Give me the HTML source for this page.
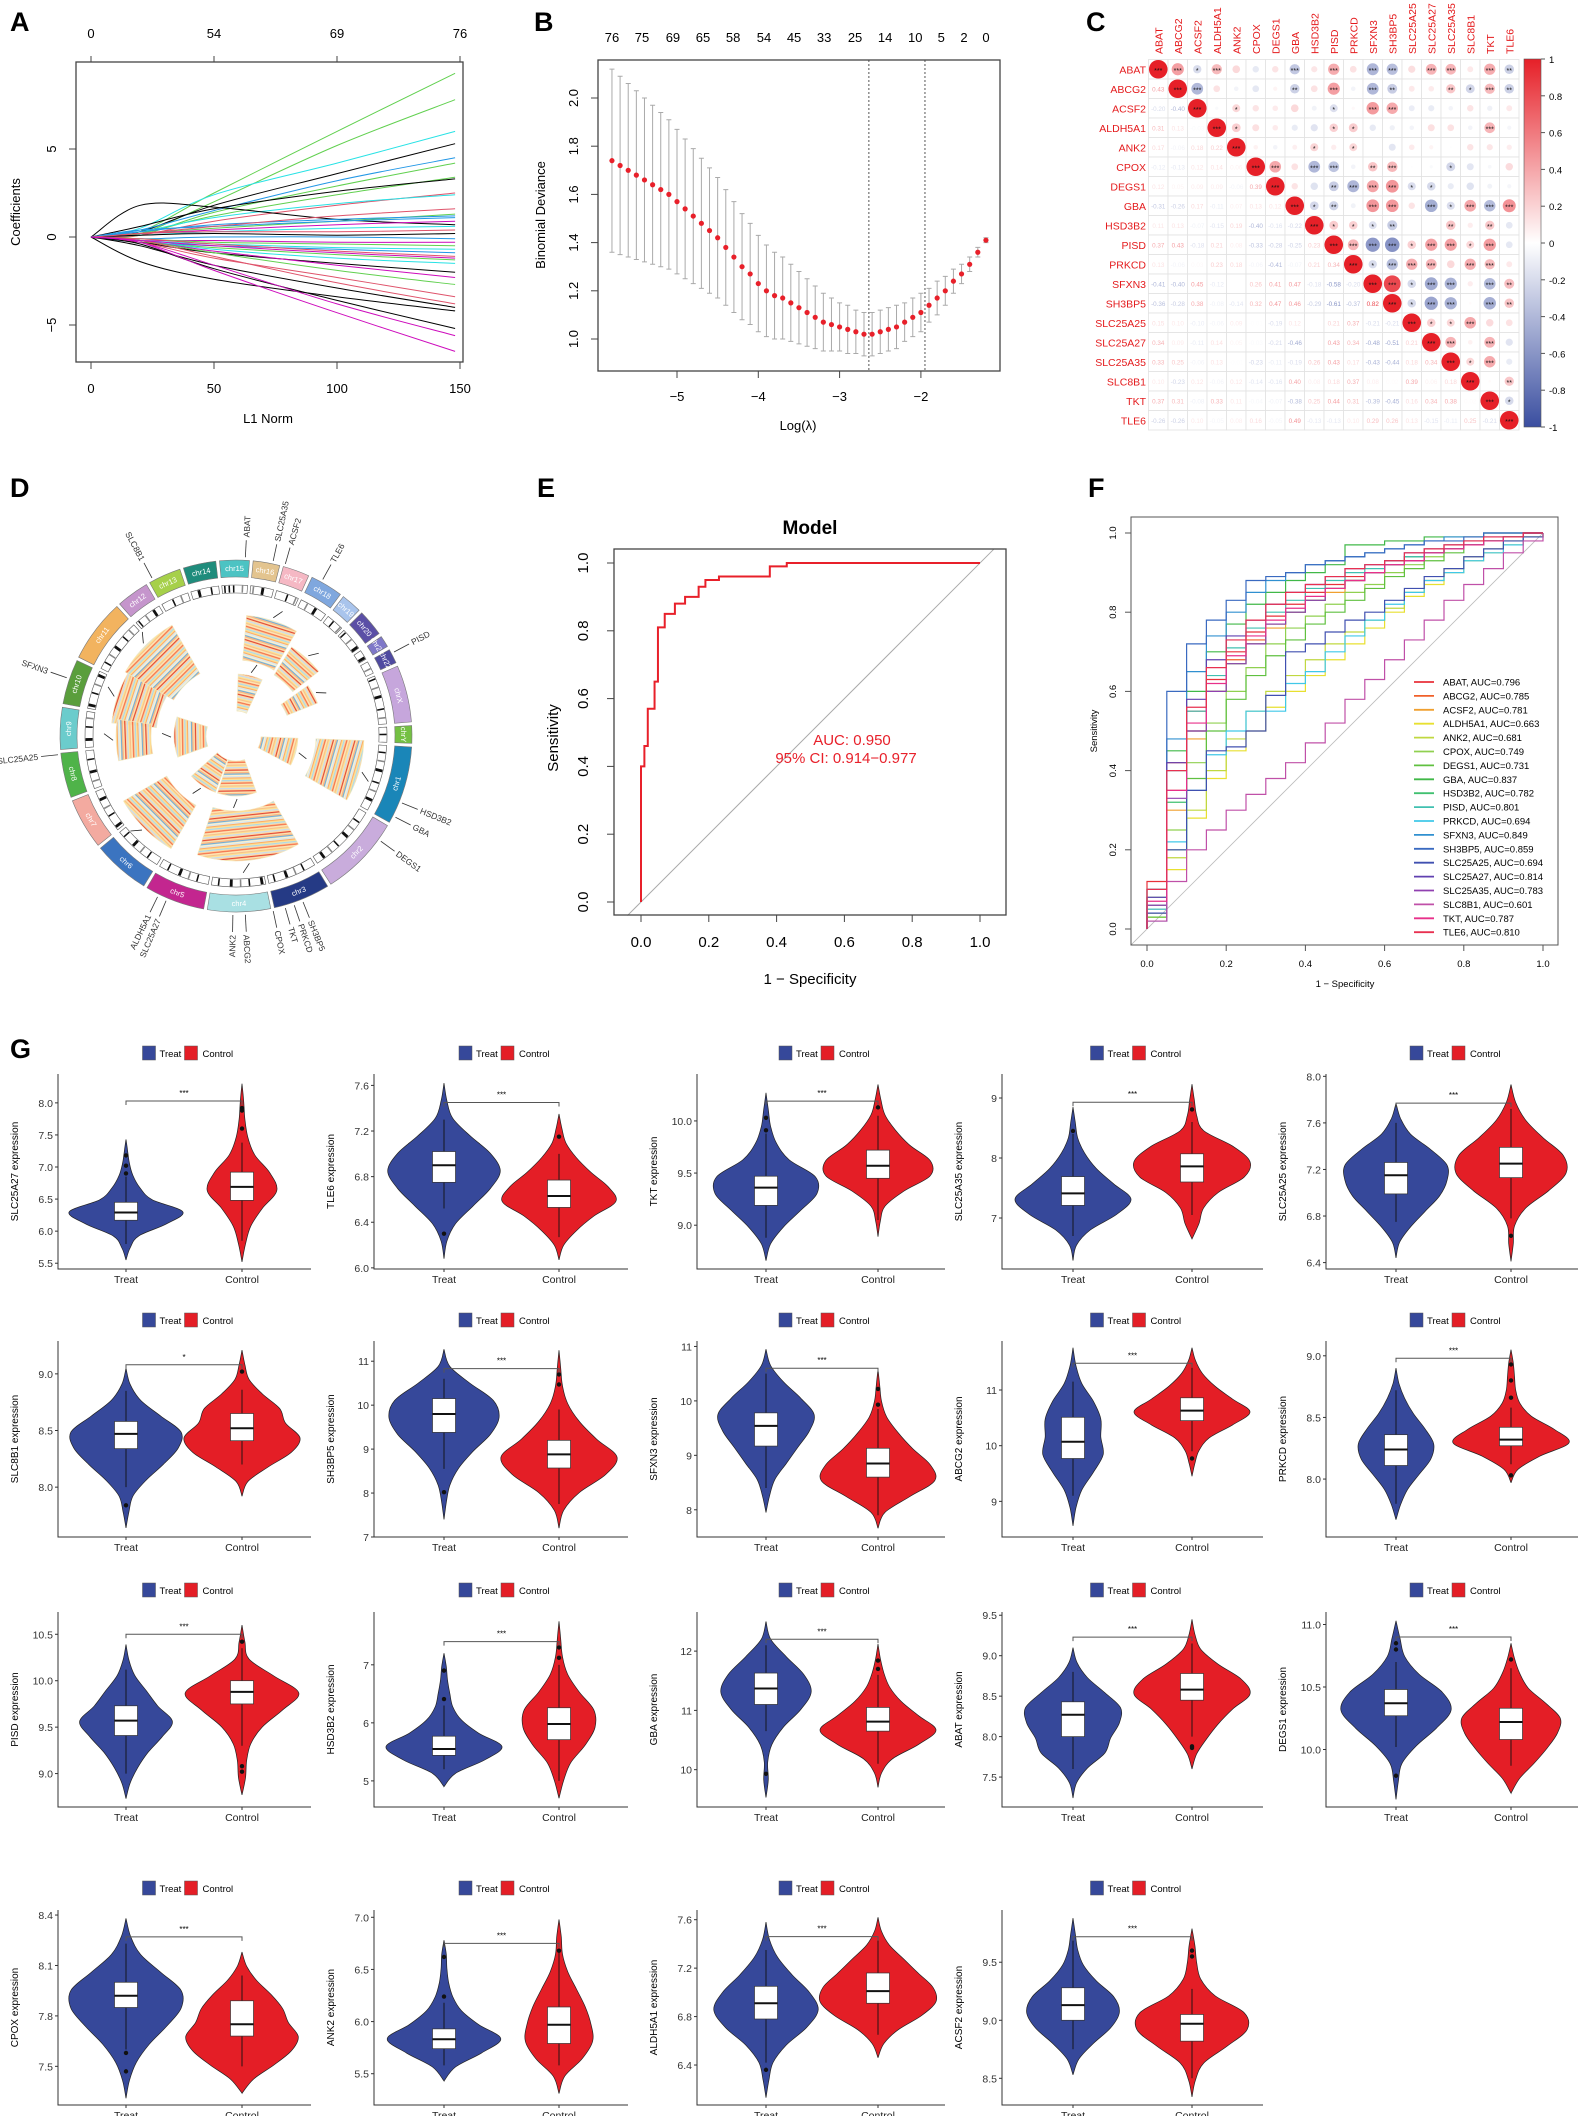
<!DOCTYPE html>
<html><head><meta charset="utf-8">
<style>
body{margin:0;background:#fff}
svg{display:block;font-family:"Liberation Sans",Arial,sans-serif}
</style></head>
<body>
<svg id="fig" width="1580" height="2116" viewBox="0 0 1580 2116">
<defs id="defs"></defs>
</svg>
<script>
const NS='http://www.w3.org/2000/svg';
const svg=document.getElementById('fig');
const defs=document.getElementById('defs');
function mk(tag,attrs,parent){const e=document.createElementNS(NS,tag);for(const k in attrs)e.setAttribute(k,attrs[k]);(parent||svg).appendChild(e);return e;}
function txt(x,y,s,attrs,parent){const t=mk('text',Object.assign({x:x,y:y},attrs||{}),parent);t.textContent=s;return t;}
function segs(p){let d='';for(let i=0;i<p.length-1;i++){const p0=p[i-1]||p[i],p1=p[i],p2=p[i+1],p3=p[i+2]||p[i+1];
 const c1=[p1[0]+(p2[0]-p0[0])/6,p1[1]+(p2[1]-p0[1])/6],c2=[p2[0]-(p3[0]-p1[0])/6,p2[1]-(p3[1]-p1[1])/6];
 d+='C'+c1[0].toFixed(1)+','+c1[1].toFixed(1)+' '+c2[0].toFixed(1)+','+c2[1].toFixed(1)+' '+p2[0].toFixed(1)+','+p2[1].toFixed(1);}return d;}

/* ================= DATA ================= */
const aKnots=[0,20,50,100,148];
const aPaths=[[0,0.3,2.5,6.0,9.3],[0,0.2,2.0,5.2,7.8],[0,0.5,2.4,4.2,6.0],[0,0.3,1.8,3.6,5.3],[0,0.4,1.5,3.2,4.5],[0,0.1,1.4,2.9,4.2],[0,0.2,1.2,2.4,3.4],[0,0.6,1.6,2.6,3.3],[0,0.1,0.9,1.8,2.5],[0,0.3,1.1,1.9,2.4],[0,1.8,1.7,1.0,0.7],[0,0.2,0.5,0.9,1.3],[0,0.4,0.6,0.9,1.1],[0,0.2,0.4,0.7,0.9],[0,0.1,0.3,0.5,0.6],[0,0.2,0.3,0.3,0.4],[0,0.1,0.2,0.1,0.2],[0,-0.1,0.0,0.0,-0.1],[0,-0.2,-0.2,-0.3,-0.3],[0,-0.1,-0.3,-0.4,-0.5],[0,-0.2,-0.4,-0.6,-0.7],[0,-0.3,-0.5,-0.7,-0.9],[0,-0.1,-0.4,-0.8,-1.1],[0,-0.3,-0.6,-1.0,-1.3],[0,-0.2,-0.7,-1.2,-1.5],[0,-0.3,-0.9,-1.5,-2.0],[0,-0.2,-0.8,-1.6,-2.3],[0,-0.2,-0.9,-1.9,-2.7],[0,-0.3,-1.2,-2.3,-3.4],[0,-0.2,-1.1,-2.6,-3.8],[0,-0.5,-1.6,-2.9,-4.0],[0,-1.4,-2.4,-3.4,-4.2],[0,-0.4,-1.8,-3.6,-5.2],[0,-0.3,-1.6,-3.8,-5.6],[0,-0.3,-1.9,-4.3,-6.5],[0,0.3,0.7,1.0,1.2],[0,0.2,0.6,1.2,1.6],[0,-0.2,-0.5,-0.9,-1.2]];
const aColors=['#61D04F','#61D04F','#28E2E5','#000000','#2297E6','#61D04F','#61D04F','#000000','#DF536B','#28E2E5','#000000','#61D04F','#2297E6','#CD0BBC','#28E2E5','#DF536B','#000000','#2297E6','#CD0BBC','#61D04F','#28E2E5','#2297E6','#DF536B','#61D04F','#28E2E5','#000000','#CD0BBC','#61D04F','#DF536B','#DF536B','#000000','#000000','#000000','#CD0BBC','#CD0BBC','#2297E6','#DF536B','#CD0BBC'];
const aXTicks=[0,50,100,150];
const aTopLabels=['0','54','69','76'];
const aYTicks=[-5,0,5];

const bLogs=[-5.8,-5.7,-5.6,-5.5,-5.4,-5.3,-5.2,-5.1,-5.0,-4.9,-4.8,-4.7,-4.6,-4.5,-4.4,-4.3,-4.2,-4.1,-4.0,-3.9,-3.8,-3.7,-3.6,-3.5,-3.4,-3.3,-3.2,-3.1,-3.0,-2.9,-2.8,-2.7,-2.6,-2.5,-2.4,-2.3,-2.2,-2.1,-2.0,-1.9,-1.8,-1.7,-1.6,-1.5,-1.4,-1.3,-1.2];
const bMean=[1.74,1.72,1.70,1.68,1.66,1.64,1.62,1.60,1.57,1.54,1.51,1.48,1.45,1.42,1.38,1.34,1.30,1.27,1.23,1.20,1.18,1.17,1.15,1.13,1.11,1.09,1.07,1.06,1.05,1.04,1.03,1.02,1.02,1.03,1.04,1.05,1.07,1.09,1.11,1.14,1.17,1.20,1.24,1.27,1.31,1.36,1.41];
const bSE=[0.38,0.37,0.36,0.35,0.34,0.33,0.32,0.31,0.30,0.29,0.28,0.27,0.26,0.25,0.24,0.23,0.22,0.21,0.20,0.19,0.18,0.17,0.16,0.15,0.14,0.13,0.12,0.11,0.10,0.10,0.09,0.09,0.09,0.09,0.09,0.09,0.08,0.08,0.08,0.07,0.07,0.06,0.05,0.04,0.03,0.02,0.01];
const bTopLogs=[-5.80,-5.43,-5.05,-4.68,-4.31,-3.93,-3.56,-3.19,-2.81,-2.44,-2.07,-1.75,-1.47,-1.20];
const bTopLabels=['76','75','69','65','58','54','45','33','25','14','10','5','2','0'];
const bXTicks=[-5,-4,-3,-2];
const bYTicks=[1.0,1.2,1.4,1.6,1.8,2.0];
const bLambdaMin=-2.64, bLambda1se=-1.95;

const cGenes=['ABAT','ABCG2','ACSF2','ALDH5A1','ANK2','CPOX','DEGS1','GBA','HSD3B2','PISD','PRKCD','SFXN3','SH3BP5','SLC25A25','SLC25A27','SLC25A35','SLC8B1','TKT','TLE6'];
const cLower=[[],[0.43],[-0.20,-0.40],[0.31,0.13,-0.03],[0.17,-0.06,0.18,0.22],[-0.12,-0.13,0.12,0.14,0.06],[0.12,0.05,0.09,0.09,-0.06,0.39],[-0.31,-0.26,0.17,-0.11,0.07,0.13,0.12],[0.11,0.13,-0.07,-0.15,0.19,-0.40,-0.16,-0.22],[0.37,0.43,-0.18,0.21,0.08,-0.33,-0.28,-0.25,0.23],[0.13,-0.06,0.03,0.23,0.18,-0.06,-0.41,-0.07,0.21,0.34],[-0.41,-0.40,0.45,-0.12,0.00,0.26,0.41,0.47,-0.18,-0.58,-0.20],[-0.36,-0.28,0.38,-0.08,-0.14,0.32,0.47,0.46,-0.29,-0.61,-0.37,0.82],[0.15,0.10,-0.10,-0.06,0.09,-0.01,-0.19,0.12,0.00,0.21,0.37,-0.21,-0.21],[0.34,0.09,-0.11,0.14,0.05,-0.03,-0.21,-0.46,0.00,0.43,0.34,-0.48,-0.51,0.21],[0.33,0.25,-0.06,0.13,-0.01,-0.23,-0.11,-0.19,0.26,0.43,0.17,-0.43,-0.44,0.18,0.34],[0.10,-0.23,0.12,-0.06,0.12,-0.14,-0.16,0.40,0.08,0.18,0.37,0.08,0.02,0.39,0.06,0.18],[0.37,0.31,-0.08,0.33,0.11,-0.04,-0.07,-0.38,0.25,0.44,0.31,-0.39,-0.45,0.16,0.34,0.38,0.02],[-0.26,-0.26,0.10,-0.05,0.08,0.16,-0.05,0.49,-0.13,-0.13,0.10,0.29,0.26,0.13,-0.15,-0.11,0.25,-0.21]];
const cBarTicks=[1,0.8,0.6,0.4,0.2,0,-0.2,-0.4,-0.6,-0.8,-1];

const dChroms=['chr15','chr16','chr17','chr18','chr19','chr20','chr21','chr22','chrX','chrY','chr1','chr2','chr3','chr4','chr5','chr6','chr7','chr8','chr9','chr10','chr11','chr12','chr13','chr14'];
const dChromStart=[-6,5,15,25,37,45,55,60,66,86,93,120,148,168,190,211,231,249,265,280,296,318,330,342];
const dChromEnd=[5,15,25,37,45,55,60,66,86,93,120,148,168,190,211,231,249,265,280,296,318,330,342,354];
const dChromColors=['#4cc3c3','#e3c48f','#f5b8c4','#7fa7de','#a9c4ec','#5b4fa6','#7f78c8','#4f4aa0','#c6a6dc','#74c043','#1a86b8','#c9acdc','#253a85','#a9e0e3','#c3268f','#3b74c0','#f3aaa0','#4fb349','#6bcccc','#5a9e3c','#f2b35f','#c595cc','#a6d04a','#1f8c7c'];
const dGenes=['ABAT','SLC25A35','ACSF2','TLE6','PISD','HSD3B2','GBA','DEGS1','SH3BP5','PRKCD','TKT','CPOX','ABCG2','ANK2','SLC25A27','ALDH5A1','SLC25A25','SFXN3','SLC8B1'];
const dGeneAngles=[3,12,16,29,62,112,117,126,158,161,164,168,177,181,203,206,264,289,332];
const dTracks=[[5,30,76,121],[32,52,72,105],[55,68,55,88],[2,25,25,62],[300,330,72,128],[276,300,80,125],[258,278,85,120],[250,288,30,62],[92,118,25,62],[92,120,80,128],[150,198,75,125],[160,198,25,60],[200,228,25,60],[210,240,80,130]];

const eFPR=[0,0,0.01,0.01,0.02,0.02,0.04,0.04,0.05,0.05,0.07,0.07,0.10,0.10,0.13,0.13,0.17,0.17,0.19,0.19,0.23,0.23,0.38,0.38,0.43,0.43,1.0];
const eTPR=[0,0.40,0.40,0.46,0.46,0.57,0.57,0.65,0.65,0.81,0.81,0.85,0.85,0.88,0.88,0.90,0.90,0.93,0.93,0.95,0.95,0.96,0.96,0.99,0.99,1.0,1.0];
const eTicks=[0,0.2,0.4,0.6,0.8,1.0];

const fGrid=[0,0.05,0.1,0.15,0.2,0.25,0.3,0.35,0.4,0.45,0.5,0.55,0.6,0.65,0.7,0.75,0.8,0.85,0.9,0.95,1.0];
const fGenes=['ABAT','ABCG2','ACSF2','ALDH5A1','ANK2','CPOX','DEGS1','GBA','HSD3B2','PISD','PRKCD','SFXN3','SH3BP5','SLC25A25','SLC25A27','SLC25A35','SLC8B1','TKT','TLE6'];
const fAUC=['0.796','0.785','0.781','0.663','0.681','0.749','0.731','0.837','0.782','0.801','0.694','0.849','0.859','0.694','0.814','0.783','0.601','0.787','0.810'];
const fColors=['#e8313a','#f0602a','#f0a030','#e8e030','#c0d840','#90d050','#60c040','#40b848','#40c070','#40c0b0','#40c8e8','#3090d0','#3a6ac0','#4050b0','#6040b0','#9040b0','#c050a8','#e8308a','#e83050'];
const fTPR=[
[0.12,0.42,0.55,0.63,0.70,0.75,0.79,0.82,0.85,0.87,0.89,0.90,0.92,0.93,0.95,0.96,0.97,0.98,0.99,1,1],
[0.05,0.35,0.50,0.60,0.68,0.73,0.77,0.80,0.83,0.86,0.88,0.90,0.92,0.94,0.95,0.96,0.97,0.98,0.99,1,1],
[0.08,0.30,0.48,0.60,0.67,0.72,0.76,0.80,0.83,0.85,0.88,0.90,0.92,0.93,0.95,0.96,0.97,0.98,0.99,0.99,1],
[0.03,0.15,0.28,0.38,0.45,0.50,0.56,0.60,0.64,0.68,0.72,0.76,0.80,0.84,0.87,0.90,0.93,0.95,0.97,0.99,1],
[0.05,0.18,0.30,0.40,0.48,0.55,0.60,0.64,0.68,0.72,0.75,0.78,0.81,0.85,0.88,0.91,0.94,0.96,0.98,0.99,1],
[0.04,0.25,0.42,0.52,0.60,0.66,0.72,0.76,0.79,0.82,0.85,0.87,0.90,0.92,0.94,0.96,0.97,0.98,0.99,1,1],
[0.03,0.20,0.38,0.50,0.58,0.64,0.69,0.73,0.77,0.80,0.83,0.86,0.89,0.91,0.93,0.95,0.97,0.98,0.99,1,1],
[0.10,0.45,0.60,0.70,0.77,0.82,0.85,0.88,0.90,0.92,0.97,0.97,0.98,0.98,0.99,0.99,0.99,1,1,1,1],
[0.06,0.32,0.50,0.60,0.67,0.72,0.77,0.80,0.83,0.86,0.88,0.90,0.92,0.94,0.95,0.96,0.97,0.98,0.99,1,1],
[0.08,0.40,0.55,0.64,0.71,0.76,0.80,0.83,0.86,0.88,0.90,0.91,0.93,0.94,0.95,0.96,0.97,0.98,0.99,1,1],
[0.05,0.22,0.35,0.44,0.50,0.55,0.55,0.62,0.65,0.70,0.74,0.78,0.82,0.85,0.88,0.90,0.93,0.95,0.97,0.99,1],
[0.10,0.48,0.65,0.74,0.80,0.85,0.88,0.90,0.92,0.93,0.94,0.95,0.96,0.97,0.98,0.99,0.99,1,1,1,1],
[0.02,0.60,0.72,0.78,0.83,0.88,0.89,0.90,0.92,0.93,0.94,0.95,0.96,0.97,0.98,0.98,0.99,1,1,1,1],
[0.04,0.20,0.35,0.45,0.46,0.50,0.59,0.70,0.72,0.75,0.78,0.80,0.83,0.86,0.89,0.91,0.94,0.96,0.98,0.99,1],
[0.08,0.42,0.58,0.68,0.74,0.78,0.82,0.85,0.87,0.89,0.91,0.92,0.93,0.95,0.96,0.97,0.98,0.99,0.99,1,1],
[0.06,0.33,0.50,0.60,0.67,0.72,0.77,0.80,0.83,0.86,0.88,0.90,0.92,0.93,0.95,0.96,0.97,0.98,0.99,1,1],
[0.02,0.12,0.20,0.25,0.30,0.34,0.38,0.42,0.47,0.52,0.58,0.63,0.68,0.73,0.78,0.83,0.87,0.91,0.95,0.98,1],
[0.07,0.35,0.52,0.62,0.69,0.74,0.78,0.81,0.84,0.86,0.88,0.90,0.92,0.93,0.95,0.96,0.97,0.98,0.99,1,1],
[0.10,0.40,0.56,0.66,0.73,0.78,0.82,0.85,0.87,0.89,0.91,0.92,0.93,0.95,0.96,0.97,0.98,0.99,0.99,1,1]];

const gGenes=['SLC25A27','TLE6','TKT','SLC25A35','SLC25A25','SLC8B1','SH3BP5','SFXN3','ABCG2','PRKCD','PISD','HSD3B2','GBA','ABAT','DEGS1','CPOX','ANK2','ALDH5A1','ACSF2'];
const gDomain=[[5.41,8.45],[5.99,7.70],[8.58,10.45],[6.15,9.40],[6.345,8.02],[7.56,9.29],[7.0,11.46],[7.5,11.1],[8.36,11.88],[7.53,9.12],[8.64,10.74],[4.55,7.91],[9.37,12.66],[7.13,9.54],[9.54,11.1],[7.27,8.43],[5.2,7.07],[6.07,7.68],[8.27,9.95]];
const gTicks=[[5.5,6.0,6.5,7.0,7.5,8.0],[6.0,6.4,6.8,7.2,7.6],[9.0,9.5,10.0],[7,8,9],[6.4,6.8,7.2,7.6,8.0],[8.0,8.5,9.0],[7,8,9,10,11],[8,9,10,11],[9,10,11],[8.0,8.5,9.0],[9.0,9.5,10.0,10.5],[5,6,7],[10,11,12],[7.5,8.0,8.5,9.0,9.5],[10.0,10.5,11.0],[7.5,7.8,8.1,8.4],[5.5,6.0,6.5,7.0],[6.4,6.8,7.2,7.6],[8.5,9.0,9.5]];
const gTickDecimals=[1,1,1,0,1,1,0,0,0,1,1,0,0,1,1,1,1,1,1];
const gTreatBox=[[5.8,6.17,6.29,6.45,6.85],[6.52,6.75,6.9,7.02,7.3],[8.88,9.19,9.36,9.47,9.88],[6.7,7.21,7.41,7.69,8.4],[6.75,6.99,7.15,7.26,7.6],[8.0,8.34,8.47,8.58,8.85],[8.55,9.38,9.8,10.15,10.6],[8.4,9.17,9.54,9.78,10.5],[9.1,9.77,10.07,10.51,11.15],[7.8,8.11,8.24,8.36,8.72],[9.0,9.41,9.57,9.73,10.12],[5.2,5.44,5.55,5.77,6.3],[10.65,11.1,11.37,11.63,12.1],[7.6,8.0,8.27,8.43,8.8],[10.02,10.27,10.37,10.48,10.7],[7.6,7.85,7.92,8.0,8.23],[5.58,5.74,5.83,5.93,6.18],[6.42,6.78,6.91,7.05,7.35],[8.75,9.0,9.13,9.28,9.7]];
const gControlBox=[[5.85,6.48,6.69,6.92,7.38],[6.27,6.53,6.63,6.77,7.0],[9.05,9.45,9.57,9.72,10.05],[7.05,7.6,7.86,8.07,8.6],[6.78,7.13,7.25,7.39,7.72],[8.2,8.41,8.52,8.65,8.86],[7.75,8.57,8.88,9.2,9.9],[7.9,8.6,8.85,9.13,9.85],[9.9,10.45,10.63,10.86,11.4],[8.12,8.27,8.32,8.42,8.58],[9.3,9.75,9.88,10.0,10.35],[5.0,5.71,5.98,6.26,7.0],[10.1,10.65,10.81,11.05,11.6],[8.0,8.45,8.58,8.78,9.15],[9.87,10.08,10.22,10.33,10.65],[7.5,7.68,7.75,7.89,8.04],[5.58,5.79,5.97,6.14,6.68],[6.65,6.91,7.01,7.16,7.46],[8.5,8.82,8.97,9.05,9.27]];
const gTreatRange=[[5.55,7.43],[6.08,7.62],[8.66,10.27],[6.29,8.85],[6.44,7.77],[7.64,9.05],[7.4,11.27],[7.95,10.95],[8.56,11.76],[7.67,8.9],[8.73,10.39],[4.9,7.2],[9.53,12.5],[7.24,9.1],[9.6,11.03],[7.31,8.38],[5.43,6.78],[6.13,7.58],[8.53,9.88]];
const gControlRange=[[5.52,8.3],[6.07,7.35],[8.89,10.35],[6.65,9.23],[6.41,7.93],[7.92,9.21],[7.2,11.25],[7.66,10.58],[9.45,11.76],[7.97,9.05],[8.77,10.6],[4.7,7.75],[9.7,12.12],[7.6,9.45],[9.65,10.85],[7.34,8.18],[5.31,6.98],[6.46,7.62],[8.34,9.79]];
const gTreatDens=[[0.07,0.22,0.7,0.98,0.45,0.24,0.12,0.06,0.03],[0.05,0.2,0.5,0.8,0.97,0.8,0.45,0.15,0.05],[0.08,0.3,0.6,0.88,0.85,0.4,0.18,0.08,0.04],[0.06,0.3,0.75,1.0,0.7,0.4,0.2,0.08,0.04],[0.06,0.25,0.5,0.75,0.88,0.88,0.6,0.25,0.08],[0.05,0.12,0.35,0.65,0.9,0.95,0.6,0.25,0.07],[0.04,0.1,0.25,0.5,0.8,0.95,0.85,0.45,0.1],[0.06,0.15,0.35,0.55,0.75,0.83,0.6,0.3,0.08],[0.05,0.15,0.35,0.52,0.48,0.48,0.35,0.15,0.05],[0.08,0.2,0.4,0.6,0.65,0.5,0.3,0.15,0.05],[0.07,0.2,0.38,0.62,0.8,0.55,0.35,0.15,0.05],[0.2,0.7,1.0,0.6,0.3,0.15,0.1,0.06,0.04],[0.04,0.03,0.1,0.3,0.6,0.78,0.65,0.35,0.08],[0.06,0.25,0.55,0.65,0.8,0.82,0.55,0.25,0.07],[0.04,0.1,0.35,0.7,0.95,0.8,0.4,0.15,0.07],[0.06,0.18,0.4,0.7,0.95,0.95,0.6,0.25,0.08],[0.2,0.65,0.98,0.6,0.3,0.15,0.08,0.05,0.04],[0.05,0.12,0.35,0.7,0.9,0.75,0.45,0.2,0.06],[0.1,0.35,0.65,0.8,0.7,0.4,0.18,0.08,0.04]];
const gControlDens=[[0.06,0.15,0.35,0.6,0.48,0.22,0.1,0.05,0.03],[0.08,0.3,0.6,0.98,0.85,0.55,0.3,0.12,0.05],[0.04,0.12,0.45,0.9,0.9,0.55,0.3,0.12,0.05],[0.12,0.2,0.45,0.9,1.0,0.7,0.2,0.08,0.04],[0.04,0.06,0.25,0.65,0.95,0.9,0.55,0.25,0.08],[0.1,0.45,0.85,1.0,0.75,0.65,0.35,0.12,0.05],[0.08,0.35,0.8,1.0,0.65,0.35,0.15,0.06,0.03],[0.12,0.55,0.98,0.9,0.6,0.35,0.15,0.06,0.03],[0.05,0.12,0.3,0.7,1.0,0.7,0.4,0.18,0.06],[0.12,0.5,1.0,0.75,0.35,0.15,0.08,0.06,0.04],[0.06,0.08,0.15,0.35,0.7,0.98,0.55,0.12,0.05],[0.08,0.2,0.45,0.62,0.6,0.35,0.15,0.06,0.03],[0.06,0.25,0.7,1.0,0.7,0.4,0.2,0.1,0.04],[0.08,0.25,0.45,0.7,1.0,0.85,0.45,0.15,0.05],[0.15,0.4,0.62,0.8,0.85,0.6,0.3,0.15,0.06],[0.2,0.55,0.85,0.97,0.8,0.7,0.5,0.25,0.08],[0.1,0.4,0.58,0.55,0.45,0.3,0.15,0.06,0.04],[0.1,0.35,0.75,1.0,0.95,0.7,0.45,0.2,0.06],[0.06,0.2,0.6,0.95,0.9,0.4,0.15,0.08,0.05]];
const gTreatOut=[[6.9,7.02,7.18],[6.3],[9.91,10.03],[8.45],[],[7.84],[8.02],[],[],[],[],[6.41,6.9],[9.93],[],[9.79,10.8,10.85],[7.47,7.58],[6.24,6.62],[6.36],[]];
const gControlOut=[[7.6,7.88,7.92],[7.15],[10.13],[8.81],[6.63],[9.02],[10.47,10.7],[9.93,10.22],[9.77],[8.03,8.66,8.8,8.93],[9.02,9.08,10.42],[7.12,7.3],[11.7,11.84],[7.86,7.88],[10.72],[],[6.68],[],[9.55,9.6]];
const gSig=['***','***','***','***','***','*','***','***','***','***','***','***','***','***','***','***','***','***','***'];
const gBracket=[8.03,7.45,10.19,8.93,7.77,9.08,10.83,10.6,11.48,8.98,10.5,7.4,12.2,9.23,10.9,8.27,6.75,7.46,9.72];

/* ================= LAYOUT ================= */
const letters=[['A',10,31],['B',534,31],['C',1086,31],['D',10,497],['E',537,497],['F',1088,497],['G',10,1058]];
letters.forEach(l=>{const t=txt(l[1],l[2],l[0],{'font-size':27,'font-weight':'bold'});

});

/* ---------- Panel A ---------- */
(function(){
const g=mk('g',{});


const X0=76,X1=463,Y0=62,Y1=362;
const xs=v=>91+v*(460-91)/150, ys=v=>237-v*17.6;
aPaths.forEach((p,i)=>{const pts=p.map((v,k)=>[xs(aKnots[k]),ys(v)]);
 const path=mk('path',{d:'M'+pts[0]+segs(pts),fill:'none',stroke:aColors[i],'stroke-width':1},g);
 
 });
const box=mk('rect',{x:X0,y:Y0,width:X1-X0,height:Y1-Y0,fill:'none',stroke:'#444','stroke-width':1.3},g);


aXTicks.forEach((v,i)=>{const x=xs(v);
 mk('line',{x1:x,x2:x,y1:Y1,y2:Y1+7,stroke:'#444'},g);
 txt(x,Y1+31,String(v),{'font-size':13,'text-anchor':'middle'},g);
 mk('line',{x1:x,x2:x,y1:Y0,y2:Y0-6,stroke:'#444'},g);
 txt(x,Y0-24,aTopLabels[i],{'font-size':13,'text-anchor':'middle'},g);});
aYTicks.forEach(v=>{const y=ys(v);mk('line',{x1:X0,x2:X0-7,y1:y,y2:y,stroke:'#444'},g);
 txt(56,y,String(v).replace('-','\u2212'),{'font-size':13,'text-anchor':'middle',transform:'rotate(-90 56 '+y+')'},g);});
const xl=txt(268,423,'L1 Norm',{'font-size':13,'text-anchor':'middle'},g);


const yl=txt(20,212,'Coefficients',{'font-size':13,'text-anchor':'middle',transform:'rotate(-90 20 212)'},g);


})();

/* ---------- Panel B ---------- */
(function(){
const g=mk('g',{});


const X0=598,X1=1000,Y0=60,Y1=371;
const xs=v=>677+(v+5)*81.3, ys=v=>339-(v-1)*241;
bLogs.forEach((l,i)=>{const x=xs(l),y1=ys(bMean[i]+bSE[i]),y2=ys(bMean[i]-bSE[i]);
 const eb=mk('path',{d:`M${x},${y1}V${y2}M${x-2.5},${y1}H${x+2.5}M${x-2.5},${y2}H${x+2.5}`,stroke:'#aaa','stroke-width':1,fill:'none'},g);
 
 });
bLogs.forEach((l,i)=>{const c=mk('circle',{cx:xs(l),cy:ys(bMean[i]),r:2.6,fill:'#e8202a'},g);
 
 });
[bLambdaMin,bLambda1se].forEach(v=>{const d=mk('line',{x1:xs(v),x2:xs(v),y1:Y0,y2:Y1,stroke:'#555','stroke-dasharray':'2,2'},g);
 
 });
const box=mk('rect',{x:X0,y:Y0,width:X1-X0,height:Y1-Y0,fill:'none',stroke:'#444','stroke-width':1.3},g);


bXTicks.forEach(v=>{const x=xs(v);mk('line',{x1:x,x2:x,y1:Y1,y2:Y1+7,stroke:'#444'},g);
 txt(x,Y1+30,String(v).replace('-','\u2212'),{'font-size':13,'text-anchor':'middle'},g);});
bTopLogs.forEach((v,i)=>txt(xs(v),42,bTopLabels[i],{'font-size':13,'text-anchor':'middle'},g));
bYTicks.forEach(v=>{const y=ys(v);mk('line',{x1:X0,x2:X0-7,y1:y,y2:y,stroke:'#444'},g);
 txt(578,y,v.toFixed(1),{'font-size':13,'text-anchor':'middle',transform:'rotate(-90 578 '+y+')'},g);});
const xl=txt(798,430,'Log(\u03bb)',{'font-size':13,'text-anchor':'middle'},g);


const yl=txt(545,215,'Binomial Deviance',{'font-size':13,'text-anchor':'middle',transform:'rotate(-90 545 215)'},g);


})();

/* ---------- Panel C ---------- */
(function(){
const g=mk('g',{});


const n=cGenes.length, X0=1148.5, Y0=59.5, S=19.5;
const M=[];for(let i=0;i<n;i++){M.push([]);for(let j=0;j<n;j++)M[i].push(i===j?1:(j<i?cLower[i][j]:cLower[j][i]));}
function col(v){const a=Math.min(1,Math.abs(v));const b=v>=0?[230,32,40]:[58,78,160];
 const c=b.map(x=>Math.round(255+(x-255)*a));return 'rgb('+c.join(',')+')';}
function stars(v){const a=Math.abs(v);return a>=0.99?'***':a>0.3?'***':a>0.23?'**':a>0.17?'*':'';}
for(let i=0;i<n;i++)for(let j=0;j<n;j++){
 const x=X0+j*S,y=Y0+i*S;
 mk('rect',{x:x,y:y,width:S,height:S,fill:'#fff',stroke:'#e2e2e2','stroke-width':0.8},g);}
for(let i=0;i<n;i++)for(let j=0;j<n;j++){
 const cx=X0+j*S+S/2,cy=Y0+i*S+S/2,v=M[i][j];
 if(j>=i){const c=mk('circle',{cx:cx,cy:cy,r:9.3*Math.sqrt(Math.abs(v)),fill:col(v)},g);
  
  
  const s=stars(v);if(s)txt(cx,cy+3.5,s,{'font-size':7,'text-anchor':'middle',fill:'#111'},g);}
 else{const t=txt(cx,cy+2.5,v.toFixed(2),{'font-size':6.3,'text-anchor':'middle',fill:col(v)},g);
  
  }}
cGenes.forEach((gname,i)=>{
 const r=txt(1146,Y0+i*S+S/2+4,gname,{'font-size':10.5,'text-anchor':'end',fill:'#e41a1c'},g);
 
 
 const cx=X0+i*S+S/2+4;
 const c=txt(cx,54,gname,{'font-size':10.5,fill:'#e41a1c',transform:'rotate(-90 '+cx+' 54)'},g);
 
 });
const lg=mk('linearGradient',{id:'cbar',x1:0,y1:0,x2:0,y2:1},defs);
mk('stop',{offset:'0','stop-color':'rgb(230,32,40)'},lg);mk('stop',{offset:'0.5','stop-color':'#fff'},lg);mk('stop',{offset:'1','stop-color':'rgb(58,78,160)'},lg);
const bar=mk('rect',{x:1524,y:59,width:17,height:368,fill:'url(#cbar)',stroke:'#555','stroke-width':0.6},g);


cBarTicks.forEach(v=>{const y=243-v*184;mk('line',{x1:1541,x2:1545,y1:y,y2:y,stroke:'#555'},g);
 txt(1549,y+4,String(v),{'font-size':9.5},g);});
})();

/* ---------- Panel D ---------- */
(function(){
const g=mk('g',{});


const CX=236,CY=736;
const P=(r,a)=>[CX+r*Math.sin(a*Math.PI/180),CY-r*Math.cos(a*Math.PI/180)];
function sector(r0,r1,a0,a1){const p1=P(r1,a0),p2=P(r1,a1),p3=P(r0,a1),p4=P(r0,a0);const lf=(a1-a0)>180?1:0;
 return `M${p1}A${r1},${r1} 0 ${lf} 1 ${p2}L${p3}A${r0},${r0} 0 ${lf} 0 ${p4}Z`;}
dChroms.forEach((c,i)=>{const a0=dChromStart[i]+0.6,a1=dChromEnd[i]-0.6;
 const s=mk('path',{d:sector(159,176,a0,a1),fill:dChromColors[i],stroke:'#777','stroke-width':0.6},g);
 
 
 const am=(a0+a1)/2,p=P(167.5,am);let rot=am;if(am>90&&am<270)rot=am+180;
 txt(p[0],p[1]+2.5,c,{'font-size':7.5,fill:'#fff','text-anchor':'middle',transform:`rotate(${rot} ${p[0]} ${p[1]})`},g);
 const b=mk('path',{d:sector(143,151,a0,a1),fill:'#fff',stroke:'#555','stroke-width':0.6},g);
 
 
 for(let a=a0+0.8;a<a1-0.5;a+=1.7){const k=Math.round(a*10)%7;if(k<3){mk('path',{d:sector(143.5,150.5,a,a+(k===0?1.1:0.6)),fill:k===1?'#888':'#111'},g);}}});
const pal=['#f8c08a','#fee8b0','#f46d43','#fdd49e','#abd9e9','#fee090','#fdae61','#d6e6ef','#fef3cf','#74add1','#f9b27a','#fee8b0','#e34a33','#fdd49e','#c6dbef','#fee090'];
dTracks.forEach((t,i)=>{const pid='hm'+i,am=(t[0]+t[1])/2;
 const pt=mk('pattern',{id:pid,patternUnits:'userSpaceOnUse',width:pal.length*1.3,height:4,patternTransform:`rotate(${am+90})`},defs);
 pal.forEach((c,k)=>mk('rect',{x:k*1.3,y:0,width:1.3,height:4,fill:c},pt));
 const w=mk('path',{d:sector(t[2],t[3],t[0],t[1]),fill:`url(#${pid})`,stroke:'#f3e9c0','stroke-width':0.6},g);
 
 
 const q1=P(t[3]+3,am),q2=P(t[3]+12,am+3);
 mk('path',{d:`M${q1}L${q2}`,stroke:'#222','stroke-width':0.8,fill:'none'},g);});
dGenes.forEach((gn,i)=>{const a=dGeneAngles[i];const l1=P(179,a),l2=P(196,a);
 mk('line',{x1:l1[0],y1:l1[1],x2:l2[0],y2:l2[1],stroke:'#333','stroke-width':0.8},g);
 const p=P(199,a);const right=a<180;const rot=right?a-90:a+90;
 const t=txt(p[0],p[1]+3,gn,{'font-size':8.5,fill:'#333','text-anchor':right?'start':'end',transform:`rotate(${rot} ${p[0]} ${p[1]})`},g);
 
 });
})();

/* ---------- Panel E ---------- */
(function(){
const g=mk('g',{});


const X0=614,X1=1006,Y0=549,Y1=915;
const xs=v=>641+v*339, ys=v=>902-v*339;
const dg=mk('line',{x1:xs(-0.04),y1:ys(-0.04),x2:xs(1.04),y2:ys(1.04),stroke:'#aaa','stroke-width':1},g);


const d=eFPR.map((v,i)=>(i?'L':'M')+xs(v)+','+ys(eTPR[i])).join('');
const roc=mk('path',{d:d,fill:'none',stroke:'#e8202a','stroke-width':2},g);


const box=mk('rect',{x:X0,y:Y0,width:X1-X0,height:Y1-Y0,fill:'none',stroke:'#444','stroke-width':1.3},g);


eTicks.forEach(v=>{const x=xs(v),y=ys(v);
 mk('line',{x1:x,x2:x,y1:Y1,y2:Y1+7,stroke:'#444'},g);
 txt(x,Y1+32,v.toFixed(1),{'font-size':15,'text-anchor':'middle'},g);
 mk('line',{x1:X0,x2:X0-7,y1:y,y2:y,stroke:'#444'},g);
 txt(588,y,v.toFixed(1),{'font-size':15,'text-anchor':'middle',transform:'rotate(-90 588 '+y+')'},g);});
const ti=txt(810,534,'Model',{'font-size':19,'font-weight':'bold','text-anchor':'middle'},g);


const xl=txt(810,984,'1 \u2212 Specificity',{'font-size':15,'text-anchor':'middle'},g);


const yl=txt(558,738,'Sensitivity',{'font-size':15,'text-anchor':'middle',transform:'rotate(-90 558 738)'},g);


const a1=txt(852,745,'AUC: 0.950',{'font-size':15,'text-anchor':'middle',fill:'#e8202a'},g);


const a2=txt(846,763,'95% CI: 0.914\u22120.977',{'font-size':15,'text-anchor':'middle',fill:'#e8202a'},g);


})();

/* ---------- Panel F ---------- */
(function(){
const g=mk('g',{});


const X0=1131,X1=1558,Y0=517,Y1=945;
const xs=v=>1147+v*396, ys=v=>929-v*396;
const dg=mk('line',{x1:xs(-0.04),y1:ys(-0.04),x2:xs(1.0),y2:ys(1.0),stroke:'#bbb','stroke-width':0.8},g);


fTPR.forEach((arr,k)=>{let d='M'+xs(0)+','+ys(0)+'L'+xs(0)+','+ys(arr[0]);
 for(let i=1;i<arr.length;i++){d+='L'+xs(fGrid[i])+','+ys(arr[i-1])+'L'+xs(fGrid[i])+','+ys(arr[i]);}
 const p=mk('path',{d:d,fill:'none',stroke:fColors[k],'stroke-width':1.2},g);
 
 });
const box=mk('rect',{x:X0,y:Y0,width:X1-X0,height:Y1-Y0,fill:'none',stroke:'#555','stroke-width':1},g);


eTicks.forEach(v=>{const x=xs(v),y=ys(v);
 mk('line',{x1:x,x2:x,y1:Y1,y2:Y1+6,stroke:'#555'},g);
 txt(x,Y1+22,v.toFixed(1),{'font-size':9.5,'text-anchor':'middle'},g);
 mk('line',{x1:X0,x2:X0-6,y1:y,y2:y,stroke:'#555'},g);
 txt(1116,y,v.toFixed(1),{'font-size':9.5,'text-anchor':'middle',transform:'rotate(-90 1116 '+y+')'},g);});
const xl=txt(1345,987,'1 \u2212 Specificity',{'font-size':9.5,'text-anchor':'middle'},g);


const yl=txt(1097,731,'Sensitivity',{'font-size':9.5,'text-anchor':'middle',transform:'rotate(-90 1097 731)'},g);


fGenes.forEach((gn,i)=>{const y=682+i*13.9;
 mk('line',{x1:1414,x2:1434,y1:y,y2:y,stroke:fColors[i],'stroke-width':1.8},g);
 const t=txt(1443,y+3.5,gn+', AUC='+fAUC[i],{'font-size':9.5},g);
 
 });
})();

/* ---------- Panel G ---------- */
(function(){
const colAxis=[58,374,697,1002,1326], colRight=[311,628,945,1263,1578];
const colTreat=[126,444,766,1073,1396], colCtrl=[242,559,878,1192,1511];
const rowTop=[1074,1341,1612,1910], rowBot=[1269,1537,1807,2105], rowLeg=[1053,1320,1590,1888];
const HW=58;
gGenes.forEach((gene,p)=>{
 const r=Math.floor(p/5),c=p%5;
 const ax=colAxis[c],ar=colRight[c],top=rowTop[r],bot=rowBot[r];
 const dom=gDomain[p];const ys=v=>bot-(v-dom[0])/(dom[1]-dom[0])*(bot-top);
 const g=mk('g',{});
 
 
 const cx=(ax+ar)/2,ly=rowLeg[r];
 const lg=mk('g',{},g);
 
 
 mk('rect',{x:cx-42,y:ly-7,width:13,height:14,fill:'#36489a',stroke:'#555','stroke-width':0.5},lg);
 txt(cx-25,ly+4,'Treat',{'font-size':9.5},lg);
 mk('rect',{x:cx,y:ly-7,width:13,height:14,fill:'#e41e26',stroke:'#555','stroke-width':0.5},lg);
 txt(cx+18,ly+4,'Control',{'font-size':9.5},lg);
 [[colTreat[c],gTreatRange[p],gTreatDens[p],gTreatBox[p],gTreatOut[p],'#36489a','treat'],
  [colCtrl[c],gControlRange[p],gControlDens[p],gControlBox[p],gControlOut[p],'#e41e26','control']].forEach(s=>{
  const [x,rg,dn,bx,out,color,nm]=s;
  const vals=[0].concat(dn).concat([0]);
  const left=vals.map((w,k)=>[x-w*HW,ys(rg[0]+k/10*(rg[1]-rg[0]))]);
  const right=vals.map((w,k)=>[x+w*HW,ys(rg[0]+k/10*(rg[1]-rg[0]))]).reverse();
  const v=mk('path',{d:'M'+left[0]+segs(left)+'L'+right[0]+segs(right)+'Z',fill:color,stroke:'#222','stroke-width':0.7},g);
  
  
  const wl=mk('line',{x1:x,x2:x,y1:ys(bx[0]),y2:ys(bx[4]),stroke:'#111','stroke-width':0.9},g);
  
  
  const b=mk('rect',{x:x-11.5,y:ys(bx[3]),width:23,height:ys(bx[1])-ys(bx[3]),fill:'#fff',stroke:'#333','stroke-width':0.7},g);
  
  
  const m=mk('line',{x1:x-11.5,x2:x+11.5,y1:ys(bx[2]),y2:ys(bx[2]),stroke:'#111','stroke-width':2},g);
  
  
  out.forEach(o=>{const d=mk('circle',{cx:x,cy:ys(o),r:2.2,fill:'#111'},g);
   
   });
 });
 const by=ys(gBracket[p]);
 const br=mk('path',{d:`M${colTreat[c]},${by+4}V${by}H${colCtrl[c]}V${by+4}`,fill:'none',stroke:'#555','stroke-width':1},g);
 
 
 txt((colTreat[c]+colCtrl[c])/2,by-5,gSig[p],{'font-size':8,'text-anchor':'middle'},g);
 mk('path',{d:`M${ax},${top}V${bot}H${ar}`,fill:'none',stroke:'#333','stroke-width':1},g);
 gTicks[p].forEach(t=>{const y=ys(t);mk('line',{x1:ax-3,x2:ax,y1:y,y2:y,stroke:'#333'},g);
  txt(ax-5,y+4,t.toFixed(gTickDecimals[p]),{'font-size':10.5,'text-anchor':'end',fill:'#333'},g);});
 [[colTreat[c],'Treat'],[colCtrl[c],'Control']].forEach(q=>{mk('line',{x1:q[0],x2:q[0],y1:bot,y2:bot+3,stroke:'#333'},g);
  const t=txt(q[0],bot+14,q[1],{'font-size':10.5,'text-anchor':'middle',fill:'#222'},g);
  
  });
 const yx=ax-40,yc=(top+bot)/2;
 const yl=txt(yx,yc,gene+' expression',{'font-size':10,'text-anchor':'middle',transform:`rotate(-90 ${yx} ${yc})`},g);
 
 
});
})();
</script>
</body></html>
